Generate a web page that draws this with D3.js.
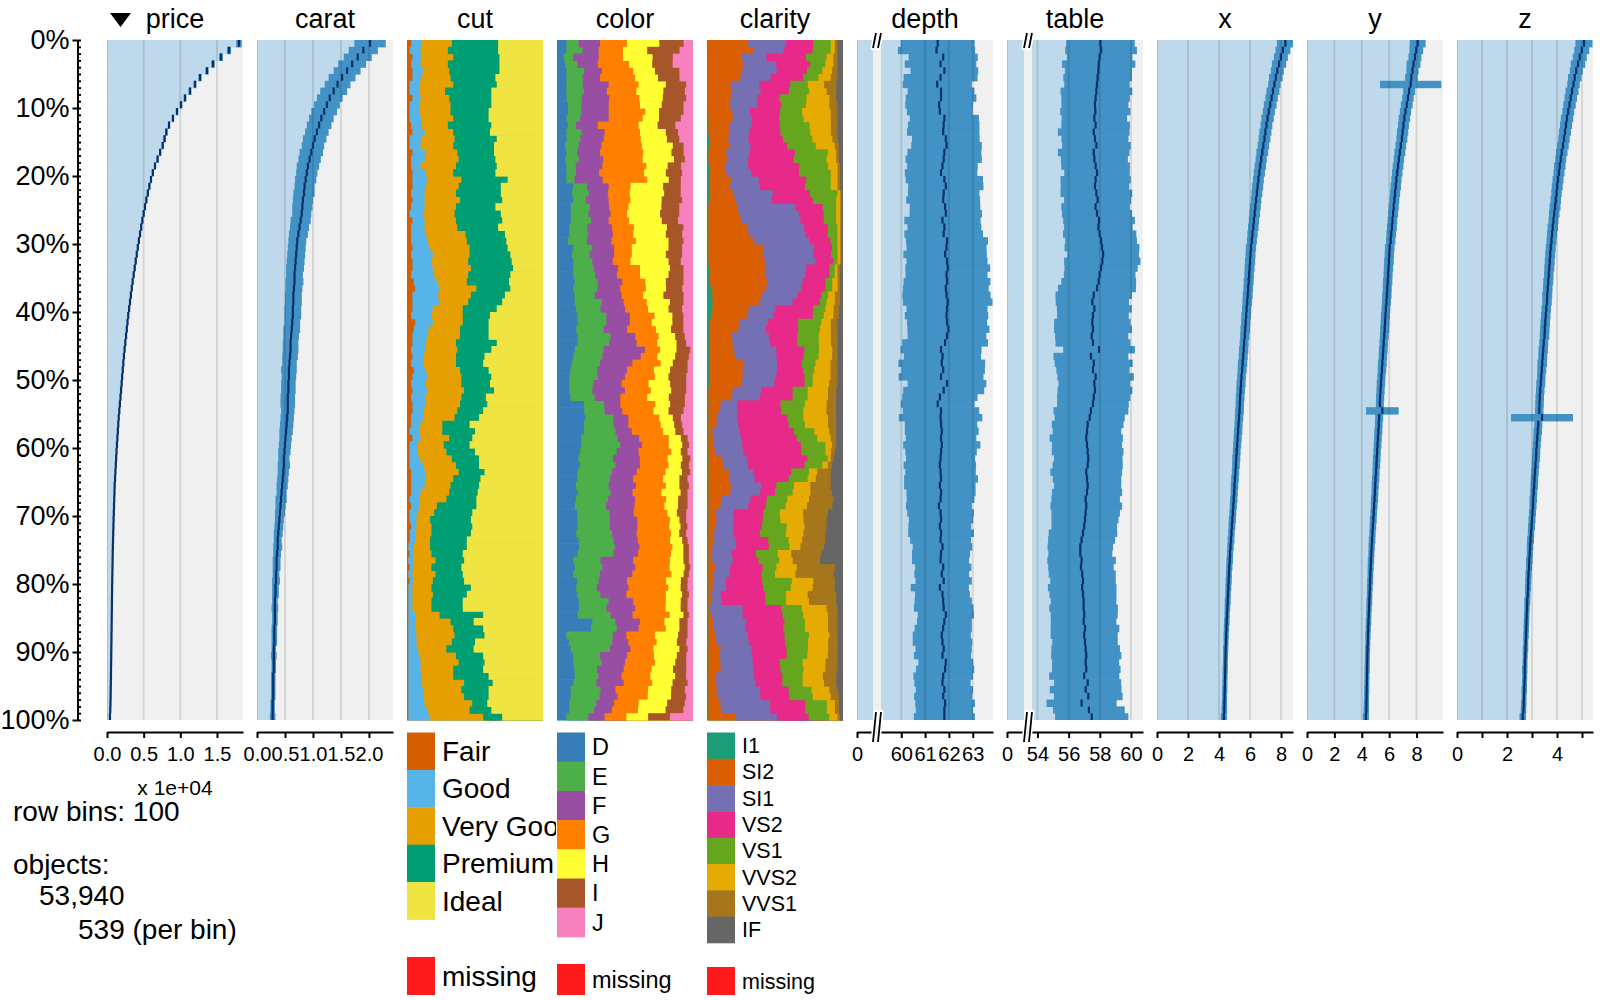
<!DOCTYPE html>
<html><head><meta charset="utf-8">
<script src="https://cdn.jsdelivr.net/npm/d3@7"></script>
<style>body{margin:0;background:#fff}svg{display:block}</style>
</head><body><svg id="chart" width="1600" height="1000"></svg>
<script>
// ---------------- DATA ----------------
const columnNames = ["price","carat","cut","color","clarity","depth","table","x","y","z"];
const yTickValues = [0,10,20,30,40,50,60,70,80,90,100];
const yTickLabels = ["0%","10%","20%","30%","40%","50%","60%","70%","80%","90%","100%"];

const priceTicks = [0,5000,10000,15000];
const priceTickLabels = ["0.0","0.5","1.0","1.5"];
const caratTicks = [0,0.5,1,1.5,2];
const caratTickLabels = ["0.0","0.5","1.0","1.5","2.0"];
const depthTicks = [0,60,61,62,63];
const depthTickLabels = ["0","60","61","62","63"];
const tableTicks = [0,54,56,58,60];
const tableTickLabels = ["0","54","56","58","60"];
const xTicks = [0,2,4,6,8];
const xTickLabels = ["0","2","4","6","8"];
const yTicks = [0,2,4,6,8];
const yTickLabelsNum = ["0","2","4","6","8"];
const zTicks = [0,1,2,3,4,5];
const zTickLabels = ["0","","2","","4",""];

const priceMean = [18000,16640,15550,14460,13640,12690,12000,11320,10640,10100,
9550,9000,8460,8100,7850,7600,7250,6900,6550,6250,
6000,5780,5570,5370,5180,5000,4830,4670,4510,4350,
4200,4060,3920,3780,3640,3500,3380,3260,3140,3020,
2900,2800,2700,2600,2500,2400,2310,2230,2150,2070,
2000,1920,1840,1760,1680,1600,1540,1480,1420,1360,
1300,1250,1200,1150,1100,1050,1020,990,960,930,
900,875,850,825,800,780,765,750,730,715,
700,690,675,665,650,640,630,615,605,590,
580,565,550,540,525,510,495,475,450,400];
const priceSd = [380,280,260,240,220,210,200,190,180,170,
160,155,150,145,140,135,130,125,120,115,
110,105,100,95,92,90,88,86,84,82,
80,78,76,74,72,70,70,68,68,66,
66,65,65,64,64,63,63,62,62,61,
60,58,56,52,48,45,42,40,38,36,
35,35,34,34,34,34,33,33,32,32,
30,28,24,20,17,15,14,14,13,13,
12,12,12,11,11,11,10,10,10,10,
11,11,11,12,12,13,13,14,18,30];

const caratMean = [2.02,1.90,1.80,1.70,1.61,1.52,1.44,1.37,1.30,1.25,
1.20,1.15,1.11,1.07,1.03,1.00,0.97,0.94,0.91,0.89,
0.87,0.85,0.84,0.82,0.81,0.80,0.78,0.76,0.74,0.72,
0.71,0.70,0.69,0.68,0.67,0.67,0.66,0.65,0.65,0.64,
0.64,0.63,0.62,0.61,0.60,0.60,0.59,0.58,0.57,0.57,
0.56,0.56,0.55,0.55,0.55,0.54,0.53,0.52,0.51,0.50,
0.49,0.48,0.48,0.47,0.46,0.45,0.44,0.43,0.42,0.41,
0.40,0.39,0.38,0.37,0.37,0.36,0.35,0.35,0.34,0.34,
0.33,0.33,0.32,0.32,0.32,0.32,0.31,0.31,0.31,0.30,
0.30,0.30,0.30,0.29,0.29,0.29,0.29,0.28,0.28,0.28];
const caratSd = [0.28,0.26,0.25,0.25,0.24,0.24,0.23,0.24,0.23,0.23,
0.23,0.22,0.22,0.21,0.21,0.20,0.21,0.20,0.20,0.19,
0.19,0.18,0.19,0.18,0.18,0.17,0.18,0.17,0.17,0.16,
0.16,0.16,0.16,0.16,0.15,0.16,0.15,0.15,0.15,0.15,
0.15,0.14,0.15,0.14,0.14,0.14,0.14,0.13,0.14,0.13,
0.13,0.13,0.13,0.13,0.12,0.12,0.12,0.12,0.11,0.11,
0.11,0.10,0.11,0.10,0.10,0.10,0.09,0.10,0.09,0.09,
0.08,0.08,0.08,0.07,0.08,0.07,0.07,0.07,0.06,0.07,
0.06,0.06,0.05,0.06,0.05,0.05,0.05,0.05,0.05,0.04,
0.05,0.04,0.04,0.04,0.04,0.04,0.04,0.04,0.04,0.05];

const depthMean = [61.53,61.48,61.76,61.65,61.81,61.65,61.51,61.67,61.67,61.59,
61.62,61.81,61.78,61.76,61.87,61.90,61.81,61.78,61.73,61.67,
61.81,61.87,61.78,61.76,61.84,61.87,61.73,61.81,61.78,61.92,
61.90,61.84,61.92,61.95,61.90,61.92,61.87,61.90,61.95,61.92,
61.90,61.92,61.98,61.92,61.84,61.67,61.73,61.70,61.76,61.67,
61.92,61.78,61.62,61.53,61.67,61.65,61.67,61.70,61.67,61.70,
61.67,61.65,61.62,61.65,61.67,61.62,61.67,61.65,61.58,61.65,
61.67,61.62,61.67,61.65,61.73,61.67,61.65,61.76,61.70,61.78,
61.62,61.73,61.76,61.78,61.87,61.81,61.76,61.70,61.73,61.78,
61.73,61.87,61.84,61.76,61.73,61.81,61.76,61.84,61.81,61.81];
const depthSd = [1.55,1.62,1.45,1.50,1.42,1.55,1.45,1.40,1.48,1.42,
1.38,1.45,1.50,1.52,1.42,1.48,1.55,1.60,1.48,1.52,
1.62,1.58,1.50,1.55,1.48,1.52,1.60,1.55,1.65,1.72,
1.68,1.75,1.70,1.78,1.72,1.82,1.80,1.85,1.88,1.70,
1.75,1.68,1.72,1.65,1.80,1.70,1.62,1.82,1.75,1.78,
1.65,1.70,1.58,1.55,1.60,1.75,1.52,1.55,1.48,1.62,
1.50,1.45,1.52,1.48,1.55,1.50,1.45,1.42,1.38,1.40,
1.35,1.32,1.38,1.28,1.25,1.22,1.20,1.18,1.15,1.18,
1.22,1.15,1.20,1.25,1.18,1.15,1.20,1.22,1.25,1.18,
1.20,1.15,1.22,1.25,1.18,1.20,1.22,1.25,1.20,1.28];

const tableMean = [58.04,58.08,57.99,57.93,57.91,57.86,57.82,57.78,57.73,57.69,
57.71,57.65,57.73,57.61,57.69,57.78,57.61,57.65,57.73,57.82,
57.73,57.69,57.78,57.86,57.73,57.82,57.95,57.91,57.99,58.08,
58.14,58.21,58.16,58.08,57.99,57.93,57.82,57.61,57.52,57.65,
57.56,57.52,57.56,57.48,57.56,57.95,57.43,57.61,57.56,57.73,
57.65,57.69,57.61,57.56,57.43,57.35,57.22,57.18,57.13,57.18,
57.22,57.26,57.22,57.13,57.18,57.22,57.18,57.09,57.13,57.09,
57.05,57.00,56.92,56.83,56.75,56.75,56.83,56.79,56.87,56.92,
56.87,56.92,56.96,56.96,57.00,56.96,57.05,57.00,57.05,57.09,
57.13,57.09,57.13,57.00,57.22,57.09,57.26,56.83,57.30,57.48];
const tableSd = [2.20,2.30,2.10,2.35,2.15,2.20,2.10,2.30,2.20,2.15,
2.25,2.10,2.20,2.30,2.15,2.20,2.30,2.15,2.20,2.10,
2.25,2.20,2.30,2.15,2.20,2.25,2.30,2.20,2.35,2.30,
2.40,2.30,2.45,2.35,2.30,2.40,2.50,2.45,2.35,2.40,
2.30,2.45,2.50,2.35,2.40,2.30,2.40,2.50,2.35,2.45,
2.30,2.40,2.35,2.30,2.40,2.25,2.30,2.20,2.35,2.25,
2.30,2.20,2.25,2.30,2.20,2.15,2.25,2.20,2.30,2.20,
2.15,2.10,2.20,2.15,2.10,2.05,2.20,2.10,2.15,2.10,
2.20,2.15,2.10,2.20,2.15,2.10,2.20,2.15,2.10,2.20,
2.25,2.15,2.20,2.25,2.15,2.30,2.20,2.25,2.30,2.35];

const xMean = [8.28,8.12,7.99,7.87,7.76,7.66,7.57,7.48,7.39,7.30,
7.21,7.13,7.06,6.99,6.93,6.86,6.79,6.72,6.66,6.60,
6.54,6.49,6.44,6.39,6.34,6.30,6.25,6.21,6.16,6.12,
6.06,6.03,6.00,5.97,5.94,5.91,5.88,5.85,5.82,5.78,
5.75,5.72,5.69,5.66,5.62,5.59,5.56,5.52,5.49,5.45,
5.42,5.39,5.36,5.34,5.32,5.29,5.26,5.23,5.20,5.17,
5.14,5.11,5.09,5.06,5.03,5.00,4.98,4.95,4.92,4.89,
4.86,4.83,4.80,4.77,4.74,4.71,4.69,4.66,4.64,4.62,
4.60,4.58,4.56,4.54,4.52,4.50,4.48,4.46,4.45,4.43,
4.42,4.41,4.40,4.39,4.38,4.37,4.36,4.35,4.34,4.31];
const xSd = [0.55,0.48,0.45,0.46,0.42,0.44,0.40,0.42,0.40,0.41,
0.39,0.40,0.38,0.39,0.38,0.37,0.38,0.36,0.37,0.36,
0.35,0.36,0.35,0.34,0.35,0.34,0.33,0.34,0.33,0.32,
0.33,0.32,0.33,0.32,0.31,0.32,0.31,0.32,0.31,0.30,
0.31,0.30,0.31,0.30,0.29,0.30,0.29,0.30,0.29,0.28,
0.29,0.28,0.28,0.27,0.28,0.27,0.26,0.27,0.26,0.26,
0.25,0.26,0.25,0.24,0.25,0.24,0.23,0.24,0.23,0.22,
0.23,0.22,0.21,0.22,0.21,0.20,0.21,0.20,0.19,0.20,
0.19,0.18,0.19,0.18,0.17,0.18,0.17,0.17,0.16,0.17,
0.16,0.16,0.17,0.16,0.16,0.17,0.16,0.17,0.18,0.20];

const yMean = [8.08,7.98,7.88,7.78,7.70,7.62,7.57,7.46,7.37,7.28,
7.19,7.11,7.04,6.98,6.93,6.85,6.78,6.71,6.65,6.59,
6.53,6.48,6.43,6.38,6.33,6.29,6.24,6.20,6.15,6.11,
6.04,6.01,5.98,5.95,5.92,5.89,5.86,5.83,5.80,5.76,
5.73,5.70,5.67,5.64,5.60,5.57,5.54,5.50,5.47,5.43,
5.40,5.37,5.34,5.32,5.50,5.27,5.24,5.21,5.18,5.15,
5.12,5.09,5.07,5.04,5.01,4.98,4.96,4.93,4.90,4.87,
4.84,4.81,4.78,4.75,4.72,4.70,4.67,4.65,4.63,4.61,
4.59,4.57,4.55,4.53,4.51,4.49,4.47,4.45,4.44,4.42,
4.41,4.40,4.39,4.38,4.37,4.36,4.35,4.34,4.33,4.30];
const ySd = [0.58,0.50,0.47,0.51,0.45,0.46,2.24,0.44,0.42,0.43,
0.41,0.42,0.40,0.41,0.40,0.39,0.40,0.38,0.39,0.38,
0.37,0.38,0.37,0.36,0.37,0.36,0.35,0.36,0.35,0.34,
0.35,0.34,0.35,0.34,0.33,0.34,0.33,0.34,0.33,0.32,
0.33,0.32,0.33,0.32,0.31,0.32,0.31,0.32,0.31,0.30,
0.31,0.30,0.30,0.29,1.19,0.29,0.28,0.29,0.28,0.28,
0.27,0.28,0.27,0.26,0.27,0.26,0.25,0.26,0.25,0.24,
0.25,0.24,0.23,0.24,0.23,0.22,0.23,0.22,0.21,0.22,
0.21,0.20,0.21,0.20,0.19,0.20,0.19,0.19,0.18,0.19,
0.18,0.18,0.19,0.18,0.18,0.19,0.18,0.19,0.20,0.22];

const zMean = [5.08,4.99,4.91,4.84,4.77,4.71,4.66,4.60,4.55,4.50,
4.45,4.40,4.36,4.32,4.28,4.24,4.19,4.15,4.11,4.08,
4.04,4.01,3.98,3.95,3.92,3.89,3.86,3.83,3.80,3.78,
3.75,3.73,3.71,3.69,3.67,3.65,3.63,3.61,3.60,3.57,
3.55,3.53,3.51,3.50,3.47,3.45,3.43,3.41,3.39,3.37,
3.35,3.33,3.31,3.30,3.29,3.40,3.25,3.23,3.21,3.19,
3.17,3.16,3.14,3.12,3.10,3.09,3.07,3.05,3.04,3.02,
3.00,2.98,2.96,2.94,2.92,2.91,2.89,2.88,2.86,2.85,
2.84,2.83,2.81,2.80,2.79,2.78,2.77,2.76,2.75,2.74,
2.73,2.72,2.71,2.71,2.70,2.69,2.68,2.67,2.66,2.63];
const zSd = [0.34,0.30,0.28,0.29,0.26,0.27,0.25,0.26,0.25,0.25,
0.24,0.25,0.24,0.24,0.23,0.23,0.23,0.22,0.23,0.22,
0.22,0.22,0.21,0.21,0.22,0.21,0.20,0.21,0.20,0.20,
0.20,0.20,0.20,0.20,0.19,0.20,0.19,0.20,0.19,0.19,
0.19,0.19,0.19,0.19,0.18,0.19,0.18,0.19,0.18,0.17,
0.18,0.17,0.17,0.17,0.17,1.24,0.16,0.17,0.16,0.16,
0.16,0.16,0.15,0.15,0.15,0.15,0.14,0.15,0.14,0.14,
0.14,0.14,0.13,0.14,0.13,0.12,0.13,0.12,0.12,0.12,
0.12,0.11,0.12,0.11,0.11,0.11,0.11,0.11,0.10,0.11,
0.10,0.10,0.11,0.10,0.10,0.11,0.10,0.11,0.11,0.13];

// cut shares (%) per row bin
const cutLevels = ["Fair","Good","Very Good","Premium","Ideal"];
const cutFair = [3,2,4,3,4,4,2,2,4,2, 2,2,3,4,2,2,4,3,3,4, 4,4,3,4,3,2,4,3,3,3, 4,3,4,4,3,5,6,4,4,4, 3,6,5,4,4,3,4,3,5,4, 3,4,3,4,4,3,3,2,4,2, 2,2,2,3,3,3,3,2,3,2, 2,3,2,2,1,2,1,2,1,2, 1,1,1,1,1,1,1,1,1,1, 1,1,1,1,1,1,1,1,1,1];
const cutGood = [8,8,7,7,8,7,7,7,6,7, 7,9,8,9,9,8,10,10,7,10, 11,10,10,9,10,10,9,10,11,12, 13,16,14,15,17,17,18,19,20,15, 15,13,11,11,10,11,8,9,9,11, 11,11,11,10,8,9,7,7,6,6, 6,7,10,11,11,10,7,7,6,6, 5,4,4,4,4,3,4,3,3,3, 3,3,3,3,5,5,5,6,6,7, 8,9,9,10,10,11,11,12,14,16];
const cutVeryGood = [22,20,23,20,19,21,25,19,21,23, 23,23,19,21,24,24,23,25,26,20, 25,24,23,26,23,23,23,24,29,29, 29,27,27,28,25,22,27,24,21,22, 23,22,23,24,22,23,24,24,25,25, 26,27,26,25,25,23,16,17,21,19, 21,24,24,24,20,19,21,20,13,12, 10,11,12,11,12,13,16,13,17,14, 14,15,14,14,18,26,28,28,26,21, 27,28,24,23,31,28,30,35,31,39];
const cutPremium = [34,37,34,38,37,33,32,34,31,30, 28,26,32,27,31,30,27,27,30,31, 34,31,33,31,29,34,34,30,29,29, 28,30,32,31,31,31,25,25,25,25, 20,19,21,21,30,25,21,20,21,22, 21,22,18,20,19,18,20,24,17,19, 21,20,17,19,20,21,21,22,29,28, 30,30,29,27,27,23,21,22,20,23, 29,25,23,23,32,17,22,22,17,20, 20,19,22,26,21,20,18,11,16,14];
const cutIdeal = [33,33,32,32,32,35,34,38,38,38, 40,40,38,39,34,36,36,35,34,35, 26,31,31,30,35,31,30,33,28,27, 26,24,23,22,24,25,24,28,30,34, 39,40,40,40,34,38,43,44,40,38, 39,36,42,41,44,47,54,50,52,54, 50,47,47,43,46,47,48,49,49,52, 53,52,53,56,56,59,58,60,59,58, 53,56,59,59,44,51,44,43,50,51, 44,43,44,40,37,40,40,41,38,30];

// color shares (%)
const colorLevels = ["D","E","F","G","H","I","J"];
const colorD = [7,7,5,6,7,7,7,7,7,8, 8,7,8,7,7,6,7,6,7,7, 7,12,11,12,10,10,10,9,9,8, 12,11,12,12,12,13,12,13,13,14, 15,15,14,15,15,13,12,11,10,9, 9,9,10,20,20,21,20,20,18,18, 17,16,17,15,15,14,15,14,13,15, 15,15,14,16,16,15,12,13,12,15, 14,15,16,16,15,26,25,7,9,10, 12,12,13,13,12,10,10,9,9,7];
const colorE = [9,12,7,9,13,12,12,13,11,10, 10,10,6,11,10,10,8,10,7,7, 6,10,12,9,14,13,15,13,14,14, 14,13,14,15,16,17,18,15,20,18, 21,21,20,24,23,21,21,21,20,21, 18,17,18,15,15,21,22,23,27,29, 27,26,26,25,24,24,24,24,23,24, 24,23,26,26,26,26,20,20,20,16, 15,17,22,20,24,17,19,34,32,29, 20,21,17,17,17,22,21,20,18,16];
const colorF = [16,12,19,15,13,13,19,17,20,20, 20,21,16,17,17,17,17,18,20,17, 21,16,14,17,14,16,13,18,18,18, 16,18,15,18,16,18,17,20,16,18, 17,17,17,18,20,30,28,24,22,20, 21,24,19,12,13,11,11,12,16,16, 16,20,18,18,17,20,16,20,21,18, 20,20,18,18,18,18,24,24,24,21, 23,19,18,21,16,18,16,10,12,15, 20,17,20,17,20,11,13,13,13,12];
const colorG = [20,18,18,23,23,26,22,22,22,23, 27,25,30,26,27,30,32,29,33,33, 33,16,16,16,14,12,15,16,15,18, 13,13,13,16,17,17,19,16,17,17, 18,16,21,17,15,11,12,21,20,22, 20,19,20,26,23,23,24,23,22,20, 24,21,21,21,22,22,21,23,22,25, 24,23,25,24,24,24,27,25,29,29, 29,29,24,22,27,18,20,21,21,17, 20,22,21,21,21,24,22,18,19,16];
const colorH = [24,18,22,17,16,17,20,20,17,16, 10,12,14,19,19,23,21,23,16,16, 16,24,25,23,24,24,24,24,24,24, 27,25,28,22,21,15,15,15,17,15, 13,15,11,12,14,12,13,9,12,10, 16,15,16,11,11,10,10,9,9,10, 7,11,9,12,12,10,14,9,10,7, 7,8,6,9,8,9,10,11,9,11, 9,12,11,11,10,11,10,17,15,19, 17,15,16,18,15,17,17,21,20,16];
const colorI = [18,24,15,15,18,16,15,16,17,16, 18,16,13,9,9,8,9,8,10,12, 9,13,12,15,13,14,12,12,12,11, 10,12,9,10,11,13,12,15,10,10, 8,8,9,7,7,10,10,11,13,13, 12,11,12,11,11,6,6,6,5,5, 5,6,6,6,6,7,5,7,7,7, 5,5,5,4,4,4,4,4,4,5, 5,5,5,5,4,6,6,7,7,6, 7,8,10,8,11,10,11,13,13,16];
const colorJ = [7,10,15,15,10,10,5,6,5,7, 7,9,13,11,10,7,7,6,9,8, 9,9,9,8,10,10,11,7,8,7, 8,8,9,7,7,7,8,7,7,8, 7,7,7,6,5,2,3,4,4,5, 5,5,6,6,7,9,8,7,4,3, 4,2,3,2,4,3,4,4,4,5, 5,4,5,4,3,3,3,2,3,4, 4,3,4,4,3,4,4,4,5,4, 5,5,5,5,4,6,5,6,7,17];

// clarity shares (%)
const clarityLevels = ["I1","SI2","SI1","VS2","VS1","VVS2","VVS1","IF"];
const clarI1 = [0.5,0.5,0.5,0.5,0.5,0.5,0.5,0.5,0.5,0.5, 0.5,1,1,1,2,2,1,1,2,2, 2,2,2,2,1,1,1,1,1,1, 1,1,1,2,2,2,3,4,4,4, 3,2,2,2,2,2,2,2,2,2, 2,1,1,1,1,1,1,1,1,1, 1,1,1,1,1,1,1,1,1,1, 1,1,1,1,1,1,1,1,1,1, 1,1,1,1,1,1,1,1,1,1, 1,1,1,1,1,1,1,1,1,1];
const clarSI2 = [30,33,25,26,25,24,17,18,17,16, 18,18,16,16,14,15,13,14,11,12, 16,15,17,19,21,23,24,28,29,33, 40,40,41,41,41,43,41,37,35,27, 26,22,21,16,17,18,19,25,24,24, 23,18,17,9,8,6,6,3,4,4, 5,10,11,15,15,17,16,10,9,5, 6,5,4,4,3,2,3,5,4,4, 3,2,2,1,2,4,4,5,6,9, 8,9,9,5,6,6,7,9,10,20];
const clarSI1 = [28,22,18,24,25,22,21,21,20,20, 13,14,16,14,15,15,17,15,17,18, 20,22,29,26,43,43,43,41,41,40, 37,37,37,30,29,26,26,26,24,20, 19,21,20,28,28,32,30,24,25,24, 24,21,21,12,13,15,16,20,20,21, 21,18,18,18,19,22,22,21,21,13, 13,13,14,16,17,15,15,11,12,9, 10,7,8,24,23,24,23,24,24,23, 24,24,24,29,29,32,31,37,36,30];
const clarVS2 = [20,21,29,25,22,24,23,21,16,18, 22,20,21,23,26,27,33,33,38,35, 35,33,27,30,20,18,17,17,16,15, 13,13,13,17,18,17,18,18,20,28, 29,22,24,21,20,21,20,18,19,21, 22,23,24,32,32,37,37,40,41,43, 43,44,41,28,25,11,11,12,13,22, 21,21,20,24,24,18,19,24,23,27, 27,33,32,28,29,28,28,27,27,26, 25,20,20,21,20,21,21,26,26,23];
const clarVS1 = [13,13,15,11,11,11,13,15,20,18, 16,18,22,22,22,21,24,24,21,23, 18,19,20,17,10,9,9,7,7,5, 4,5,3,4,4,5,5,5,5,9, 8,17,16,16,16,11,11,10,8,6, 6,11,11,18,16,12,12,15,15,18, 18,15,13,13,14,13,13,15,15,12, 13,18,19,15,15,16,15,10,10,22, 20,15,15,15,15,15,16,18,17,16, 15,17,17,15,15,17,17,16,16,15];
const clarVVS2 = [3,3,5,6,7,9,12,13,17,17, 21,20,16,15,15,14,6,7,7,5, 5,5,2,3,3,3,3,2,2,2, 2,2,2,2,2,4,4,5,6,6, 7,7,8,9,9,10,10,11,12,13, 12,15,15,16,17,18,17,11,10,5, 4,2,4,6,6,12,13,16,16,17, 17,13,13,10,8,10,10,15,15,16, 16,16,17,18,18,17,17,15,15,15, 15,17,16,15,16,13,13,6,6,6];
const clarVVS1 = [2,2,3,3,4,5,9,7,5,6, 5,5,5,5,4,3,2,2,2,2, 2,2,1,1,1,1,1,1,1,1, 1,1,1,2,2,2,2,4,4,4, 4,5,5,5,5,4,4,5,5,5, 6,6,6,7,7,6,6,5,4,3, 3,2,3,10,11,15,16,18,19,18, 17,16,16,17,17,22,20,28,28,16, 16,21,20,8,7,7,7,6,7,7, 7,9,9,10,9,6,6,3,3,2];
const clarIF = [4,4,4,4,4,4,5,5,5,4, 4,4,4,4,4,3,3,3,2,2, 2,2,1,1,1,1,1,1,1,1, 1,1,1,2,2,2,2,2,2,3, 3,4,4,4,4,4,4,4,4,4, 4,5,5,5,5,5,5,5,5,5, 6,7,8,9,9,9,8,7,8,11, 12,12,13,13,14,16,17,6,7,6, 6,5,5,4,4,4,4,4,4,4, 4,4,4,5,5,4,3,3,3,2];

const rowBins = 100;
const objectCount = "53,940";
const perBin = 539;

// ---------------- STYLE / LAYOUT ----------------
const FONT = "'Liberation Sans', Arial, Helvetica, sans-serif";
const C_BG = "#f0f0f0", C_LIGHT = "#bdd9eb", C_MID = "#4292c6", C_DARK = "#08306b";
const C_MISSING = "#fe1a1a";
const cutColors = ["#D55E00","#56B4E9","#E69F00","#009E73","#F0E442"];
const colorColors = ["#377EB8","#4DAF4A","#984EA3","#FF7F00","#FFFF33","#A65628","#F781BF"];
const clarityColors = ["#1B9E77","#D95F02","#7570B3","#E7298A","#66A61E","#E6AB02","#A6761D","#666666"];

const svg = d3.select("#chart").attr("font-family", FONT);
const defs = svg.append("defs");
const colLeft = i => 107 + 150 * i;
const colW = 136;
const panelY0 = 40, panelY1 = 720, axisY = 732;
const nBins = priceMean.length;
const yBins = d3.scaleBand().domain(d3.range(nBins)).range([panelY0, panelY1]);
const bw = yBins.bandwidth();

// headers
columnNames.forEach((n, i) => {
  svg.append("text").attr("x", colLeft(i) + colW / 2).attr("y", 28)
    .attr("text-anchor", "middle").attr("font-size", 27).attr("fill", "#000").text(n);
});
svg.append("path").attr("d", "M110,13L131,13L120.5,27Z").attr("fill", "#000");

// left y axis
const yPct = d3.scaleLinear().domain([0, 100]).range([panelY0, panelY1]);
const yaL = svg.append("g").attr("transform", "translate(77.5,0)")
  .call(d3.axisLeft(yPct).tickValues(yTickValues).tickFormat((d, i) => yTickLabels[i])
    .tickSize(5).tickPadding(3).tickSizeOuter(0));
const yaR = svg.append("g").attr("transform", "translate(77.5,0)")
  .call(d3.axisRight(yPct).tickValues(d3.range(0, 101)).tickFormat("").tickSize(3.5).tickSizeOuter(0));
[yaL, yaR].forEach(g => {
  g.attr("font-family", FONT).attr("font-size", 27);
  g.selectAll("line,path").attr("stroke", "#000").attr("stroke-width", 2);
  g.selectAll("text").attr("fill", "#000");
});
yaR.select(".domain").remove();

function breakMark(g, cx, y0, y1) {
  const segs = [[cx - 4, y1, cx - 1, y0], [cx + 1, y1, cx + 4, y0]];
  segs.forEach(s => g.append("line").attr("x1", s[0]).attr("y1", s[1]).attr("x2", s[2]).attr("y2", s[3])
    .attr("stroke", "#fff").attr("stroke-width", 5).attr("stroke-linecap", "round"));
  segs.forEach(s => g.append("line").attr("x1", s[0]).attr("y1", s[1]).attr("x2", s[2]).attr("y2", s[3])
    .attr("stroke", "#000").attr("stroke-width", 1.8));
}

// numeric columns
const numSpecs = [
  {key: "price", i: 0, mean: priceMean, sd: priceSd, dom: [0, 18550], ticks: priceTicks, labels: priceTickLabels},
  {key: "carat", i: 1, mean: caratMean, sd: caratSd, dom: [0, 2.43], ticks: caratTicks, labels: caratTickLabels},
  {key: "depth", i: 5, mean: depthMean, sd: depthSd, dom: [0, 59.15, 63.85], brk: 24, ticks: depthTicks, labels: depthTickLabels},
  {key: "table", i: 6, mean: tableMean, sd: tableSd, dom: [0, 53.65, 60.77], brk: 25, ticks: tableTicks, labels: tableTickLabels},
  {key: "x", i: 7, mean: xMean, sd: xSd, dom: [0, 8.77], ticks: xTicks, labels: xTickLabels},
  {key: "y", i: 8, mean: yMean, sd: ySd, dom: [0, 9.93], ticks: yTicks, labels: yTickLabelsNum},
  {key: "z", i: 9, mean: zMean, sd: zSd, dom: [0, 5.44], ticks: zTicks, labels: zTickLabels}
];

numSpecs.forEach(s => {
  const x0 = colLeft(s.i);
  const rng = s.dom.length === 3 ? [x0, x0 + s.brk, x0 + colW] : [x0, x0 + colW];
  const xs = d3.scaleLinear().domain(s.dom).range(rng);
  const cid = "clip-" + s.key;
  defs.append("clipPath").attr("id", cid).append("rect")
    .attr("x", x0).attr("y", panelY0).attr("width", colW).attr("height", panelY1 - panelY0);
  const g = svg.append("g").attr("clip-path", `url(#${cid})`);
  g.append("rect").attr("x", x0).attr("y", panelY0).attr("width", colW).attr("height", panelY1 - panelY0).attr("fill", C_BG);
  g.append("g").selectAll("rect").data(s.mean).join("rect")
    .attr("x", xs(0)).attr("y", (d, i) => yBins(i))
    .attr("width", d => Math.max(0, xs(d) - xs(0))).attr("height", bw + 0.6).attr("fill", C_LIGHT);
  if (s.brk) g.append("rect").attr("x", x0 + s.brk - 8).attr("y", panelY0).attr("width", 8)
    .attr("height", panelY1 - panelY0).attr("fill", C_BG);
  g.append("g").selectAll("rect").data(s.mean).join("rect")
    .attr("x", (d, i) => xs(d - s.sd[i])).attr("y", (d, i) => yBins(i))
    .attr("width", (d, i) => Math.max(0, xs(d + s.sd[i]) - xs(d - s.sd[i])))
    .attr("height", bw + 0.6).attr("fill", C_MID);
  g.append("g").selectAll("line").data(s.ticks).join("line")
    .attr("x1", d => xs(d)).attr("x2", d => xs(d)).attr("y1", panelY0).attr("y2", panelY1)
    .attr("stroke", "#000").attr("stroke-opacity", 0.11).attr("stroke-width", 2);
  g.append("path").attr("d", s.mean.map((m, i) => `M${xs(m)},${yBins(i)}V${yBins(i) + bw}`).join(""))
    .attr("stroke", C_DARK).attr("stroke-width", 2.2).attr("fill", "none");

  const ax = svg.append("g").attr("transform", `translate(0,${axisY})`)
    .call(d3.axisBottom(xs).tickValues(s.ticks).tickFormat((d, i) => s.labels[i])
      .tickSize(6).tickPadding(9).tickSizeOuter(0));
  ax.attr("font-family", FONT).attr("font-size", 20);
  ax.selectAll("line,path").attr("stroke", "#000").attr("stroke-width", 2);
  ax.selectAll("text").attr("fill", "#000");

  if (s.brk) {
    const cx = x0 + s.brk - 4;
    breakMark(svg, cx, 33, 48);
    breakMark(svg, cx, 712, 742);
  }
});
svg.append("text").attr("x", colLeft(0) + colW / 2).attr("y", 795).attr("text-anchor", "middle")
  .attr("font-size", 21).attr("fill", "#000").text("x 1e+04");

// categorical columns
const catSpecs = [
  {key: "cut", i: 2, levels: cutLevels, series: [cutFair, cutGood, cutVeryGood, cutPremium, cutIdeal], colors: cutColors,
   rowH: 37.4, font: 28, missY: 957, missH: 38, clipR: 556},
  {key: "color", i: 3, levels: colorLevels, series: [colorD, colorE, colorF, colorG, colorH, colorI, colorJ], colors: colorColors,
   rowH: 29.2, font: 23.5, missY: 964, missH: 31},
  {key: "clarity", i: 4, levels: clarityLevels, series: [clarI1, clarSI2, clarSI1, clarVS2, clarVS1, clarVVS2, clarVVS1, clarIF], colors: clarityColors,
   rowH: 26.3, font: 21.5, missY: 967, missH: 28}
];

catSpecs.forEach(s => {
  const x0 = colLeft(s.i);
  const xs = d3.scaleLinear().domain([0, 1]).range([x0, x0 + colW]);
  const rows = d3.range(nBins).map(b => {
    const o = {bin: b};
    s.levels.forEach((l, k) => o[l] = s.series[k][b]);
    return o;
  });
  const stacked = d3.stack().keys(s.levels).offset(d3.stackOffsetExpand)(rows);
  const g = svg.append("g");
  stacked.forEach((layer, k) => {
    g.append("g").selectAll("rect").data(layer).join("rect")
      .attr("x", d => xs(d[0])).attr("y", d => yBins(d.data.bin))
      .attr("width", d => xs(1) - xs(d[0])).attr("height", bw + 0.6)
      .attr("fill", s.colors[k]);
  });
  // legend
  const lg = svg.append("g");
  if (s.clipR) {
    const lid = "lclip-" + s.key;
    defs.append("clipPath").attr("id", lid).append("rect").attr("x", x0 - 5).attr("y", 700).attr("width", s.clipR - x0 + 5).attr("height", 300);
    lg.attr("clip-path", `url(#${lid})`);
  }
  const ly0 = 732.5;
  s.levels.forEach((l, k) => {
    lg.append("rect").attr("x", x0).attr("y", ly0 + k * s.rowH).attr("width", 28).attr("height", s.rowH + 0.4).attr("fill", s.colors[k]);
    lg.append("text").attr("x", x0 + 35).attr("y", ly0 + (k + 0.5) * s.rowH + s.font * 0.35)
      .attr("font-size", s.font).attr("fill", "#000").text(l);
  });
  lg.append("rect").attr("x", x0).attr("y", s.missY).attr("width", 28).attr("height", s.missH).attr("fill", C_MISSING);
  lg.append("text").attr("x", x0 + 35).attr("y", s.missY + s.missH / 2 + s.font * 0.35)
    .attr("font-size", s.font).attr("fill", "#000").text("missing");
});

// info text bottom left
const info = [
  {t: "row bins: " + rowBins, x: 13, y: 821},
  {t: "objects:", x: 13, y: 874},
  {t: objectCount, x: 39, y: 905},
  {t: perBin + " (per bin)", x: 78, y: 939}
];
svg.append("g").selectAll("text").data(info).join("text")
  .attr("x", d => d.x).attr("y", d => d.y).attr("font-size", 28).attr("fill", "#000").text(d => d.t);
</script></body></html>
